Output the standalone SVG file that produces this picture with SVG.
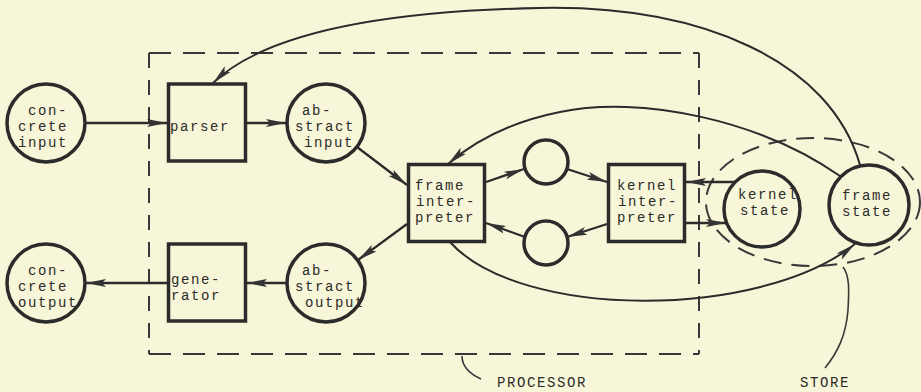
<svg xmlns="http://www.w3.org/2000/svg" width="921" height="392" viewBox="0 0 921 392">
  <defs>
    <marker id="arrow" viewBox="0 0 20 9" refX="20" refY="4.5" markerWidth="20" markerHeight="9" markerUnits="userSpaceOnUse" orient="auto">
      <path d="M0,0.5 L20,4.5 L0,8.5 L4,4.5 Z" fill="#333333"/>
    </marker>
    <style>
      .node { fill: none; stroke: #2b2b2b; stroke-width: 3.5; }
      .edge { fill: none; stroke: #2b2b2b; stroke-width: 2.3; marker-end: url(#arrow); }
      .curve { fill: none; stroke: #2b2b2b; stroke-width: 2; }
      .hdash { fill: none; stroke: #383838; stroke-width: 2; stroke-dasharray: 22 12; }
      .vdash { fill: none; stroke: #383838; stroke-width: 2; stroke-dasharray: 15 12; }
      .edash { fill: none; stroke: #383838; stroke-width: 2; stroke-dasharray: 18 10; }
      .lead { fill: none; stroke: #383838; stroke-width: 1.6; }
      text { font-family: "Liberation Mono", "DejaVu Sans Mono", monospace; font-size: 14px; letter-spacing: 1.6px; fill: #2b2b2b; }
    </style>
  </defs>

  <!-- paper -->
  <rect x="0" y="0" width="921" height="392" fill="#f8f6d8"/>

  <!-- processor boundary -->
  <g id="processor">
    <line class="hdash" x1="149" y1="53" x2="699" y2="53"/>
    <line class="hdash" x1="149" y1="354" x2="699" y2="354"/>
    <line class="vdash" x1="149" y1="53" x2="149" y2="354"/>
    <line class="vdash" x1="699" y1="53" x2="699" y2="354"/>
    <path class="lead" d="M462,356 C462,367 470,374 481,379"/>
    <text x="497" y="387">PROCESSOR</text>
  </g>

  <!-- store boundary -->
  <g id="store">
    <ellipse class="edash" cx="813" cy="202" rx="107" ry="64"/>
    <path class="lead" d="M843,267 C850,276 849,292 848,310 C846,335 838,352 825,368"/>
    <text x="800" y="387">STORE</text>
  </g>

  <g id="concrete-input">
    <circle class="node" cx="46" cy="123" r="39"/>
    <text x="28" y="115">con-</text>
    <text x="18" y="131">crete</text>
    <text x="18" y="147">input</text>
  </g>

  <g id="parser">
    <rect class="node" x="168.5" y="84" width="77" height="77"/>
    <text x="170" y="131">parser</text>
  </g>

  <g id="abstract-input">
    <circle class="node" cx="326" cy="123" r="39"/>
    <text x="302" y="115">ab-</text>
    <text x="295" y="131">stract</text>
    <text x="304" y="147">input</text>
  </g>

  <g id="frame-interpreter">
    <rect class="node" x="408.5" y="164.5" width="76" height="77"/>
    <text x="415" y="190">frame</text>
    <text x="416" y="206">inter-</text>
    <text x="415" y="222">preter</text>
  </g>

  <g id="channel-top">
    <circle class="node" cx="546" cy="162" r="22"/>
  </g>

  <g id="channel-bottom">
    <circle class="node" cx="546" cy="243" r="22"/>
  </g>

  <g id="kernel-interpreter">
    <rect class="node" x="608.5" y="164.5" width="76" height="77"/>
    <text x="617" y="190">kernel</text>
    <text x="618" y="206">inter-</text>
    <text x="617" y="222">preter</text>
  </g>

  <g id="kernel-state">
    <circle class="node" cx="762" cy="209" r="38"/>
    <text x="738" y="199">kernel</text>
    <text x="740" y="215">state</text>
  </g>

  <g id="frame-state">
    <circle class="node" cx="869" cy="205" r="40"/>
    <text x="842" y="200">frame</text>
    <text x="842" y="216">state</text>
  </g>

  <g id="generator">
    <rect class="node" x="168.5" y="244" width="77" height="77"/>
    <text x="171" y="284">gene-</text>
    <text x="171" y="300">rator</text>
  </g>

  <g id="abstract-output">
    <circle class="node" cx="326" cy="283" r="39"/>
    <text x="302" y="275">ab-</text>
    <text x="295" y="291">stract</text>
    <text x="305" y="307">output</text>
  </g>

  <g id="concrete-output">
    <circle class="node" cx="46" cy="283" r="39"/>
    <text x="28" y="275">con-</text>
    <text x="18" y="291">crete</text>
    <text x="18" y="307">output</text>
  </g>

  <g id="connectors">
    <line class="edge" x1="85" y1="123" x2="167" y2="123"/>
    <line class="edge" x1="247" y1="123" x2="286" y2="123"/>
    <line class="edge" x1="357" y1="147" x2="407" y2="185"/>
    <line class="edge" x1="407" y1="224" x2="358" y2="260"/>
    <line class="edge" x1="287" y1="283" x2="247" y2="283"/>
    <line class="edge" x1="167" y1="283" x2="86" y2="283"/>

    <line class="edge" x1="486" y1="182" x2="524" y2="169"/>
    <line class="edge" x1="567" y1="169" x2="607" y2="182"/>
    <line class="edge" x1="607" y1="224" x2="567" y2="237"/>
    <line class="edge" x1="525" y1="237" x2="486" y2="223"/>

    <line class="edge" x1="735" y1="182" x2="686" y2="182"/>
    <line class="edge" x1="686" y1="223" x2="726" y2="223"/>

    <!-- frame state back to frame interpreter, over the top -->
    <path class="curve" marker-end="url(#arrow)" d="M840,176 C760,120 640,95 560,112 C515,121 478,138 448,164"/>
    <!-- frame interpreter down and round to frame state -->
    <path class="curve" marker-end="url(#arrow)" d="M450,242 C520,320 760,320 855,244"/>
    <!-- frame state back to parser, the long arc -->
    <path class="curve" marker-end="url(#arrow)" d="M860,165 C830,60 700,5 540,8 C380,11 265,33 213,83"/>
  </g>
</svg>
